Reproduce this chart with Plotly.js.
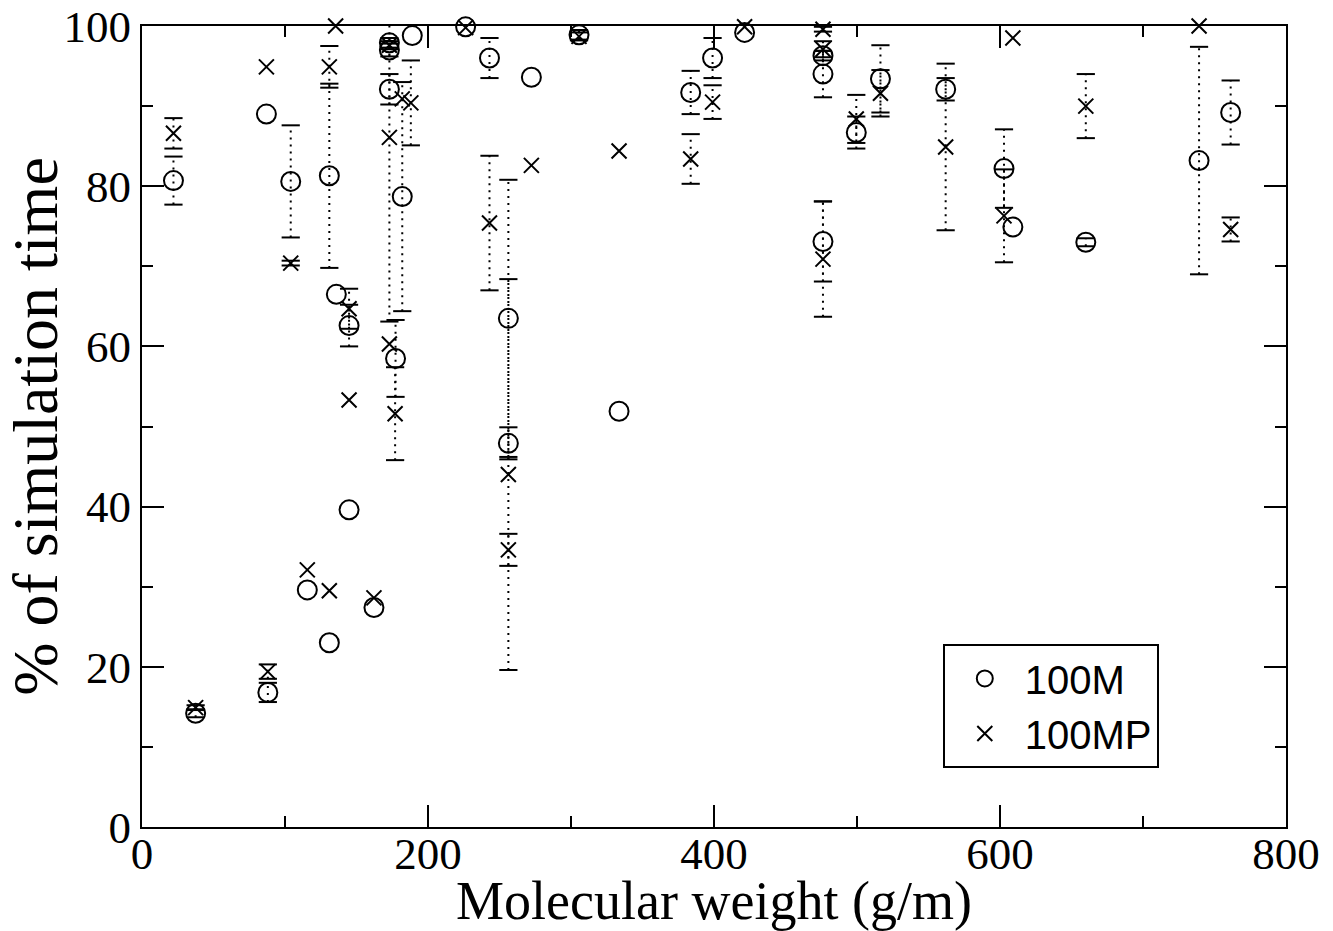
<!DOCTYPE html>
<html>
<head>
<meta charset="utf-8">
<script src="https://cdn.plot.ly/plotly-3.0.1.min.js"></script>
<style>html,body{margin:0;padding:0;background:#fff;}#chart{width:1333px;height:931px;}</style>
</head>
<body>
<div id="chart"></div>
<script>
// Molecular weight (g/m) and % of simulation time, series 100M (circles)
const mw100M = [22, 37.5, 88, 87, 104, 115.6, 131, 131, 135.9, 144.8,
  144.8, 162.2, 173, 173, 173, 177.3, 182, 189, 226.3, 243,
  256.2, 256.2, 272.3, 305.6, 333.6, 383.7, 399, 421.4, 476.2, 476.2,
  476.2, 499.5, 516.4, 562, 602.8, 609, 660, 739.2, 761.3];
const pct100M = [80.7, 14.2, 16.8, 89.0, 80.6, 29.6, 81.3, 23.0, 66.5, 62.6,
  39.6, 27.4, 97.9, 97.0, 92.1, 58.5, 78.7, 98.8, 99.9, 96.0,
  63.5, 47.9, 93.6, 98.9, 51.9, 91.7, 96.0, 99.2, 96.3, 94.0,
  73.1, 86.7, 93.4, 92.1, 82.2, 74.9, 73.0, 83.2, 89.2];
const err100M = [3.0, 0.5, 1.2, 0, 7.0, 0, 11.5, 0, 0, 2.6,
  0, 0, 0.6, 0.8, 1.9, 4.8, 14.3, 0, 0, 2.5,
  17.3, 2.0, 0, 0.6, 0, 2.7, 2.5, 0, 0.6, 2.9,
  5.0, 2.0, 4.2, 1.4, 4.9, 0, 0.5, 14.2, 4.0];

// Series 100MP (crosses)
const mw100MP = [22, 37.5, 87, 88, 104, 115.6, 131, 131, 135.4, 144.8,
  144.8, 162.2, 173, 173, 173, 177, 182, 188, 226.3, 243,
  256.2, 256.2, 272.3, 305.6, 333.6, 383.7, 399, 421.4, 476.2, 476.2,
  476.2, 499.5, 516.4, 562, 602.8, 609, 660, 739.2, 761.3];
const pct100MP = [86.6, 14.9, 94.9, 19.4, 70.4, 32.1, 94.9, 29.5, 100.0, 64.7,
  53.3, 28.6, 97.6, 86.1, 60.3, 51.6, 90.9, 90.4, 99.8, 75.4,
  44.0, 34.6, 82.6, 98.7, 84.4, 83.4, 90.5, 99.9, 99.6, 97.1,
  70.9, 88.4, 91.6, 84.9, 76.3, 98.5, 90.0, 100.0, 74.6];
const err100MP = [1.9, 0.3, 0, 0.9, 0.3, 0, 2.6, 0, 0, 2.5,
  0, 0, 0.5, 23.0, 0, 5.8, 0, 5.3, 0, 8.4,
  24.4, 2.0, 0, 0.5, 0, 3.1, 2.1, 0, 0.3, 1.0,
  7.2, 3.0, 2.9, 10.4, 5.8, 0, 4.0, 0, 1.5];

const seriesNames = ['100M', '100MP'];

function stems(xs, ys, es) {
  const x = [], y = [];
  for (let i = 0; i < xs.length; i++) {
    if (es[i] > 0) { x.push(xs[i], xs[i], null); y.push(ys[i] - es[i], ys[i] + es[i], null); }
  }
  return {x, y};
}
function caps(xs, ys, es) {
  const x = [], y = [];
  for (let i = 0; i < xs.length; i++) {
    if (es[i] > 0) { x.push(xs[i], xs[i]); y.push(ys[i] - es[i], ys[i] + es[i]); }
  }
  return {x, y};
}

const traces = [];
[[mw100M, pct100M, err100M], [mw100MP, pct100MP, err100MP]].forEach(([xs, ys, es]) => {
  const s = stems(xs, ys, es), c = caps(xs, ys, es);
  traces.push({type: 'scatter', mode: 'lines', x: s.x, y: s.y, showlegend: false, hoverinfo: 'skip',
    line: {color: 'black', width: 2, dash: '2px,5px'}});
  traces.push({type: 'scatter', mode: 'markers', x: c.x, y: c.y, showlegend: false, hoverinfo: 'skip',
    marker: {symbol: 'line-ew', size: 13, line: {color: 'black', width: 2}}});
});
traces.push({type: 'scatter', mode: 'markers', name: seriesNames[0], x: mw100M, y: pct100M, cliponaxis: false,
  marker: {symbol: 'circle-open', size: 19, color: 'black', line: {color: 'black', width: 2}}});
traces.push({type: 'scatter', mode: 'markers', name: seriesNames[1], x: mw100MP, y: pct100MP, cliponaxis: false,
  marker: {symbol: 'x-thin-open', size: 15, color: 'black', line: {color: 'black', width: 2}}});

const axisCommon = {
  ticks: 'inside', ticklen: 22, tickwidth: 2, tickcolor: 'black',
  showline: true, linewidth: 2, linecolor: 'black', mirror: 'allticks',
  showgrid: false, zeroline: false,
  tickfont: {family: 'Liberation Serif', size: 45, color: 'black'}
};

const layout = {
  width: 1333, height: 931,
  margin: {l: 142, r: 47, t: 26, b: 104},
  paper_bgcolor: 'white', plot_bgcolor: 'white',
  showlegend: true,
  xaxis: Object.assign({}, axisCommon, {
    range: [0, 800], tick0: 0, dtick: 200, ticklabelposition: 'outside', ticklabelstandoff: -14,
    minor: {dtick: 100, ticks: 'inside', ticklen: 11, tickwidth: 2, tickcolor: 'black', showgrid: false},
    title: {text: 'Molecular weight (g/m)', font: {family: 'Liberation Serif', size: 54, color: 'black'}, standoff: 5}
  }),
  yaxis: Object.assign({}, axisCommon, {
    range: [0, 100], tick0: 0, dtick: 20,
    minor: {dtick: 10, ticks: 'inside', ticklen: 11, tickwidth: 2, tickcolor: 'black', showgrid: false},
    title: {text: '% of simulation time', font: {family: 'Liberation Serif', size: 64, color: 'black'}, standoff: 0}
  }),
  legend: {x: 0.7, y: 0.2285, xanchor: 'left', yanchor: 'top',
    bgcolor: 'white', bordercolor: 'black', borderwidth: 2,
    font: {family: 'Liberation Sans', size: 40, color: 'black'}, itemwidth: 70}
};

Plotly.newPlot('chart', traces, layout, {displayModeBar: false, staticPlot: true});
</script>
</body>
</html>
